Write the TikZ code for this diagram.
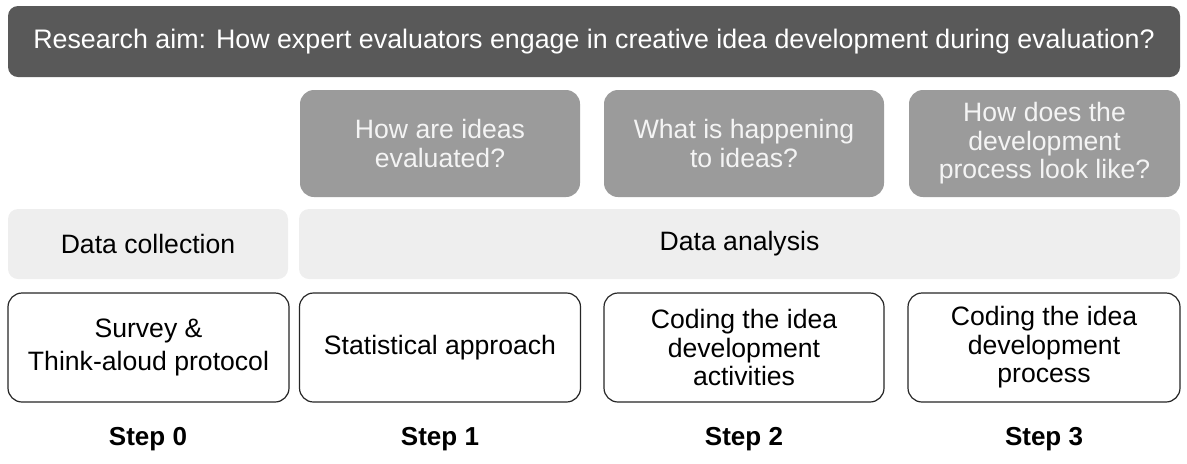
\documentclass[tikz,border=0pt]{standalone}
\usepackage{fontspec}
\setmainfont{Liberation Sans}
\usepackage{xcolor}
\usepackage{tikz}

\definecolor{aimgray}{HTML}{595959}
\definecolor{qgray}{HTML}{9B9B9B}
\definecolor{rowgray}{HTML}{EEEEEE}
\definecolor{qtext}{HTML}{F4F4F4}

\tikzset{
  aimbox/.style={fill=aimgray, text=white, rounded corners=5pt, minimum width=586pt, minimum height=35.5pt, font=\fontsize{13.4}{16}\selectfont},
  qbox/.style={fill=qgray, text=qtext, rounded corners=7pt, minimum height=53.5pt, align=center, font=\fontsize{13.3}{14.3}\selectfont},
  rowbox/.style={fill=rowgray, rounded corners=5pt, minimum height=35pt, font=\fontsize{13.3}{15}\selectfont},
  methbox/.style={draw=black!85, line width=0.6pt, fill=white, rounded corners=7pt, minimum height=54.5pt, align=center, font=\fontsize{13.3}{14.3}\selectfont},
  steplabel/.style={font=\fontsize{13}{15}\selectfont\bfseries}
}

\begin{document}
\begin{tikzpicture}[x=0.5pt,y=-0.5pt, inner sep=0pt]
\useasboundingbox (0,0) rectangle (1187,463);

\node[aimbox] (aim) at (594,41.5) {Research aim: How expert evaluators engage in creative idea development during evaluation?};

\node[qbox, minimum width=140pt] (q1) at (440,143.5) {How are ideas\\evaluated?};
\node[qbox, minimum width=140pt] (q2) at (744,143.5) {What is happening\\to ideas?};
\node[qbox, minimum width=135.5pt] (q3) at (1044.5,143.5) {How does the\\development\\process look like?};

\node[rowbox, minimum width=140pt] (collect) at (148,244) {Data collection};
\node[rowbox, minimum width=440.5pt] (analysis) at (739.5,244) {Data analysis};

\node[methbox, minimum width=140.5pt, font=\fontsize{13.3}{16.5}\selectfont] (m0) at (148.5,347.5) {Survey \&\\Think-aloud protocol};
\node[methbox, minimum width=140.5pt] (m1) at (440,347.5) {Statistical approach};
\node[methbox, minimum width=140pt] (m2) at (744,347.5) {Coding the idea\\development\\activities};
\node[methbox, minimum width=136pt] (m3) at (1044,347.5) {Coding the idea\\development\\process};

\node[steplabel] (s0) at (148,439) {Step 0};
\node[steplabel] (s1) at (440,439) {Step 1};
\node[steplabel] (s2) at (744,439) {Step 2};
\node[steplabel] (s3) at (1044,439) {Step 3};
\end{tikzpicture}
\end{document}
